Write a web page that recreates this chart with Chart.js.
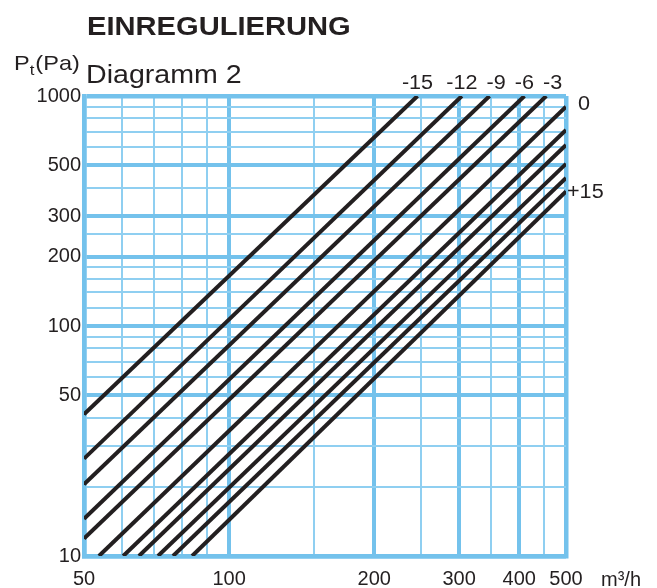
<!DOCTYPE html>
<html>
<head>
<meta charset="utf-8">
<title>Einregulierung – Diagramm 2</title>
<style>
  html, body { margin: 0; padding: 0; background: #ffffff; }
  #wrap { width: 657px; height: 588px; position: relative; }
  canvas { display: block; }
</style>
<script src="https://cdn.jsdelivr.net/npm/chart.js@4/dist/chart.umd.min.js"></script>
</head>
<body>
<div id="wrap"><canvas id="chart" width="657" height="588"></canvas></div>
<script>
// Damper settings, one straight characteristic per setting
const settings = ['-15', '-12', '-9', '-6', '-3', '0', '+3', '+6', '+9', '+12', '+15'];
const printedLabels = ['-15', '-12', '-9', '-6', '-3', '0', '', '', '', '', '+15'];

// First and last point of every characteristic: [airflow m³/h, pressure Pa]
const lineStart = [[50, 41.3], [50, 26.5], [50, 20.5], [50, 14.5], [50, 11.9],
                   [53.7, 10], [60.3, 10], [65, 10], [71.2, 10], [76.5, 10], [83.8, 10]];
const lineEnd   = [[246, 1000], [304, 1000], [347, 1000], [410, 1000], [455, 1000],
                   [500, 898], [500, 712], [500, 613], [500, 507], [500, 440], [500, 385]];

// Grid values of the log-log paper
const xGrid   = [50, 60, 70, 80, 90, 100, 150, 200, 250, 300, 350, 400, 450, 500];
const xLabels = [50, 100, 200, 300, 400, 500];
const yGrid   = [10, 20, 30, 40, 50, 60, 70, 80, 90, 100, 120, 140, 160, 180, 200,
                 250, 300, 400, 500, 600, 700, 800, 900, 1000];
const yLabels = [10, 50, 100, 200, 300, 500, 1000];

const ink = '#231f20';
const gridThick = '#74c2ec';
const gridThin = '#8fcff1';
const family = '"Liberation Sans", Arial, Helvetica, sans-serif';

function gridStyle(labelled, ends) {
  return {
    drawTicks: false,
    color: c => labelled.includes(c.tick && c.tick.value) ? gridThick : gridThin,
    lineWidth: c => {
      const v = c.tick && c.tick.value;
      if (ends.includes(v)) return 4.5;
      return labelled.includes(v) ? 4 : 2;
    }
  };
}

// Extra texts: heading, sub heading, axis captions and setting labels
const annotate = {
  id: 'annotate',
  afterDraw(chart) {
    const { ctx, chartArea: a, scales: { x, y } } = chart;
    const stretched = (text, px, py, sx) => {
      ctx.save();
      ctx.translate(px, py);
      ctx.scale(sx, 1);
      ctx.fillText(text, 0, 0);
      ctx.restore();
      return ctx.measureText(text).width * sx;
    };
    ctx.save();
    ctx.fillStyle = ink;
    ctx.textBaseline = 'alphabetic';
    ctx.textAlign = 'left';

    ctx.font = `bold 26px ${family}`;
    stretched('EINREGULIERUNG', 87, 35, 1.12);

    ctx.font = `26px ${family}`;
    stretched('Diagramm 2', 86, 83, 1.1);

    // P_t(Pa)
    ctx.font = `21px ${family}`;
    let cx = 14;
    cx += stretched('P', cx, 70, 1.12);
    ctx.font = `15px ${family}`;
    cx += stretched('t', cx, 75, 1.12);
    ctx.font = `21px ${family}`;
    stretched('(Pa)', cx + 1, 70, 1.12);

    // unit of the airflow axis
    ctx.font = `20px ${family}`;
    ctx.textAlign = 'center';
    ctx.fillText('m³/h', 621, 586);

    // setting labels at the ends of the characteristics
    let prevRight = -Infinity;
    settings.forEach((s, i) => {
      const text = printedLabels[i];
      if (!text) return;
      const px = x.getPixelForValue(lineEnd[i][0]);
      const py = y.getPixelForValue(lineEnd[i][1]);
      ctx.font = `20px ${family}`;
      const w = ctx.measureText(text).width * 1.08;
      if (lineEnd[i][1] >= 1000) {
        let left = px - w / 2;
        if (left < prevRight + 9) left = prevRight + 9;
        ctx.textAlign = 'left';
        stretched(text, left, a.top - 7, 1.08);
        prevRight = left + w;
      } else {
        ctx.textAlign = 'left';
        const gap = text.startsWith('+') ? 1 : 12;
        const lift = text.startsWith('+') ? 7 : 3;
        stretched(text, a.right + gap, py + lift, 1.08);
      }
    });
    ctx.restore();
  }
};

new Chart(document.getElementById('chart'), {
  type: 'line',
  data: {
    datasets: settings.map((s, i) => ({
      label: s,
      data: [
        { x: lineStart[i][0], y: lineStart[i][1] },
        { x: lineEnd[i][0], y: lineEnd[i][1] }
      ],
      borderColor: ink,
      borderWidth: 4,
      borderCapStyle: 'butt',
      pointRadius: 0,
      fill: false,
      tension: 0
    }))
  },
  options: {
    responsive: false,
    animation: false,
    devicePixelRatio: 1,
    layout: { padding: { top: 96, right: 91, left: 0, bottom: 0 } },
    plugins: { legend: { display: false }, tooltip: { enabled: false } },
    scales: {
      x: {
        type: 'logarithmic',
        min: 50,
        max: 500,
        afterBuildTicks: s => { s.ticks = xGrid.map(v => ({ value: v })); },
        afterFit: s => { s.height = 32; },
        grid: gridStyle(xLabels, [50, 500]),
        border: { display: true, width: 4.5, color: gridThick },
        ticks: {
          autoSkip: false,
          maxRotation: 0,
          padding: 11,
          color: ink,
          font: { family, size: 20 },
          callback: v => xLabels.includes(v) ? String(v) : ''
        }
      },
      y: {
        type: 'logarithmic',
        min: 10,
        max: 1000,
        afterBuildTicks: s => { s.ticks = yGrid.map(v => ({ value: v })); },
        afterFit: s => { s.width = 84; },
        grid: gridStyle(yLabels, [10, 1000]),
        border: { display: true, width: 4.5, color: gridThick },
        ticks: {
          autoSkip: false,
          padding: 3,
          color: ink,
          font: { family, size: 20 },
          callback: v => yLabels.includes(v) ? String(v) : ''
        }
      }
    }
  },
  plugins: [annotate]
});
</script>
</body>
</html>
